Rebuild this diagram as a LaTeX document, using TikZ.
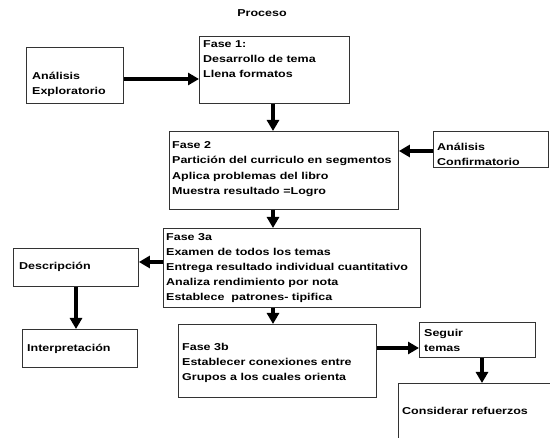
\documentclass[tikz,border=0pt]{standalone}
\usepackage{fontspec}
\setmainfont{Liberation Sans}[FakeStretch=1.25]
\usetikzlibrary{arrows.meta}
\begin{document}
\begin{tikzpicture}[x=1pt,y=-1pt,
  box/.style={draw=black!80,line width=0.9pt,anchor=north west,inner sep=0pt,minimum width=#1},
  txt/.style={anchor=base west,align=left,inner sep=0pt,font=\fontsize{10}{15.2}\selectfont\bfseries},
  conn/.style={line width=4pt,-{Triangle[length=11pt,width=12pt]}}]
\useasboundingbox (0,0) rectangle (550,438);
\node[txt,anchor=base] (title) at (262,16.7) {Proceso};
% boxes
\node[box=97pt,minimum height=56pt] (expl) at (26,47) {};
\node[box=150pt,minimum height=67pt] (f1) at (199,36) {};
\node[box=229pt,minimum height=78pt] (f2) at (169,131) {};
\node[box=115pt,minimum height=36pt] (conf) at (433,131) {};
\node[box=257pt,minimum height=79pt] (f3a) at (163,228) {};
\node[box=125pt,minimum height=38pt] (desc) at (13,248) {};
\node[box=115pt,minimum height=38pt] (interp) at (22,329) {};
\node[box=198pt,minimum height=73pt] (f3b) at (178,324) {};
\node[box=116pt,minimum height=35pt] (seg) at (419,322) {};
\node[box=160pt,minimum height=70pt] (cons) at (398,383) {};
% texts (anchored at the baseline of their last line)
\node[txt] (texpl) at (32,94.3) {Análisis\\Exploratorio};
\node[txt] (tf1) at (203,77.7) {Fase 1:\\Desarrollo de tema\\Llena formatos};
\node[txt] (tf2) at (172,194.3) {Fase 2\\Partición del curriculo en segmentos\\Aplica problemas del libro\\Muestra resultado =Logro};
\node[txt] (tconf) at (437,166) {Análisis\\Confirmatorio};
\node[txt] (tf3a) at (166,301) {Fase 3a\\Examen de todos los temas\\Entrega resultado individual cuantitativo\\Analiza rendimiento por nota\\Establece~ patrones- tipifica};
\node[txt] (tdesc) at (19,270) {Descripción};
\node[txt] (tinterp) at (27,352) {Interpretación};
\node[txt] (tf3b) at (182,380.7) {Fase 3b\\Establecer conexiones entre\\Grupos a los cuales orienta};
\node[txt] (tseg) at (424,351.7) {Seguir\\temas};
\node[txt] (tcons) at (402,415) {Considerar refuerzos};
% connectors
\draw[conn] (expl.east |- 0,79) -- (f1.west |- 0,79);
\draw[conn] (f1.south -| 273,0) -- (f2.north -| 273,0);
\draw[conn] (conf.west |- 0,151) -- (f2.east |- 0,151);
\draw[conn] (f2.south -| 273,0) -- (f3a.north -| 273,0);
\draw[conn] (f3a.west |- 0,262) -- (desc.east |- 0,262);
\draw[conn] (desc.south -| 76,0) -- (interp.north -| 76,0);
\draw[conn] (f3a.south -| 273,0) -- (f3b.north -| 273,0);
\draw[conn] (f3b.east |- 0,348) -- (seg.west |- 0,348);
\draw[conn] (seg.south -| 482,0) -- (cons.north -| 482,0);
\end{tikzpicture}
\end{document}
